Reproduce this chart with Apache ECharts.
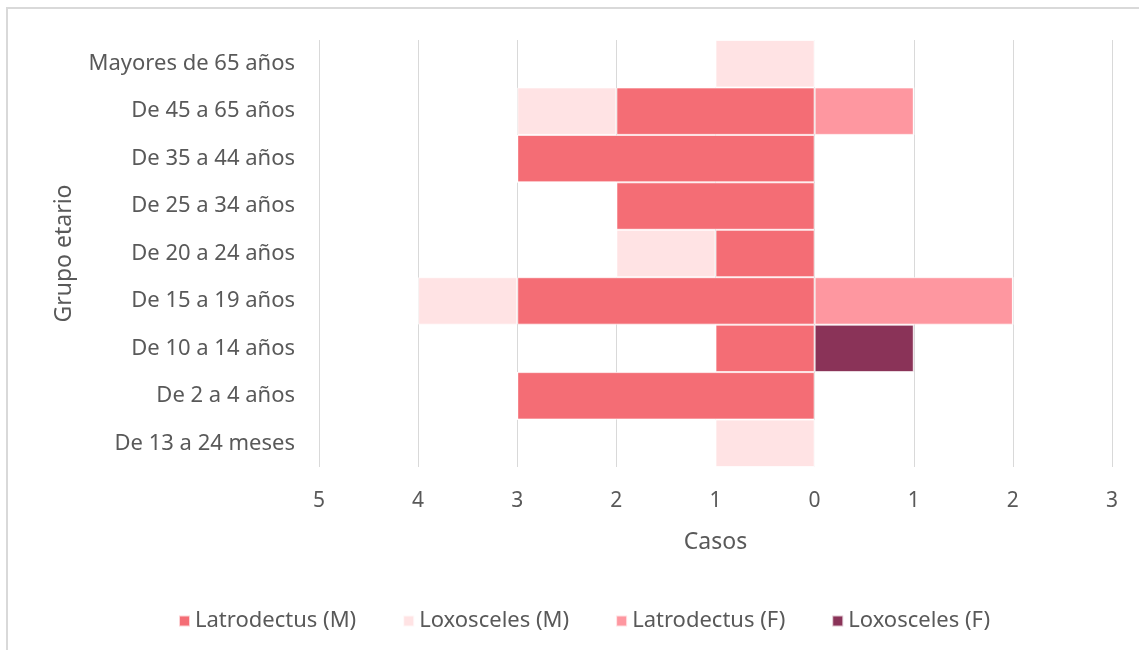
<!DOCTYPE html>
<html lang="es">
<head>
    <meta charset="UTF-8">
    <title>Grupo etario</title>
    <script src="https://cdn.jsdelivr.net/npm/echarts@6/dist/echarts.min.js"></script>
    <style>
        html, body { margin: 0; padding: 0; background: #fff; }
        #chart { width: 1139px; height: 650px; }
    </style>
</head>
<body>
    <div id="chart"></div>
    <script>
        // categorias de abajo hacia arriba
        var grupos = ['De 13 a 24 meses', 'De 2 a 4 años', 'De 10 a 14 años', 'De 15 a 19 años',
            'De 20 a 24 años', 'De 25 a 34 años', 'De 35 a 44 años', 'De 45 a 65 años', 'Mayores de 65 años'];
        // masculino se dibuja hacia la izquierda (negativo)
        var latrodectusM = [0, 3, 1, 3, 1, 2, 3, 2, 0];
        var loxoscelesM = [1, 0, 0, 1, 1, 0, 0, 1, 1];
        var latrodectusF = [0, 0, 0, 2, 0, 0, 0, 1, 0];
        var loxoscelesF = [0, 0, 1, 0, 0, 0, 0, 0, 0];

        var chart = echarts.init(document.getElementById('chart'));
        var font = '"Noto Sans", sans-serif';

        function neg(arr) {
            return arr.map(function (v) { return v === 0 ? 0 : -v; });
        }

        function barSerie(name, data, color) {
            return {
                name: name,
                type: 'bar',
                stack: 'total',
                barCategoryGap: '0%',
                data: data,
                itemStyle: {
                    color: color,
                    borderColor: 'rgba(255,255,255,0.7)',
                    borderWidth: 1
                }
            };
        }

        var option = {
            backgroundColor: '#fff',
            textStyle: { fontFamily: font },
            graphic: [{
                type: 'rect',
                shape: { x: 7, y: 8, width: 1200, height: 700 },
                style: { fill: 'none', stroke: '#d9d9d9', lineWidth: 2 },
                silent: true
            }],
            legend: {
                top: 605,
                left: 173,
                itemWidth: 11,
                itemHeight: 11,
                itemGap: 46,
                icon: 'rect',
                textStyle: { color: '#595959', fontSize: 22, fontFamily: font },
                data: ['Latrodectus (M)', 'Loxosceles (M)', 'Latrodectus (F)', 'Loxosceles (F)']
            },
            grid: { left: 319, right: 27, top: 40, bottom: 183 },
            xAxis: {
                type: 'value',
                min: -5,
                max: 3,
                interval: 1,
                name: 'Casos',
                nameLocation: 'middle',
                nameGap: 64,
                nameTextStyle: { color: '#595959', fontSize: 23 },
                axisLine: { show: false },
                axisTick: { show: false },
                axisLabel: {
                    color: '#595959',
                    fontSize: 21,
                    margin: 24,
                    formatter: function (v) { return Math.abs(v); }
                },
                splitLine: { lineStyle: { color: '#d9d9d9', width: 1 } }
            },
            yAxis: {
                type: 'category',
                data: grupos,
                name: 'Grupo etario',
                nameLocation: 'middle',
                nameGap: 243,
                nameTextStyle: { color: '#595959', fontSize: 23 },
                axisLine: { show: false },
                axisTick: { show: false },
                axisLabel: { color: '#595959', fontSize: 22, margin: 24 }
            },
            series: [
                barSerie('Latrodectus (M)', neg(latrodectusM), '#f46d75'),
                barSerie('Loxosceles (M)', neg(loxoscelesM), '#ffe3e4'),
                barSerie('Latrodectus (F)', latrodectusF, '#fe97a0'),
                barSerie('Loxosceles (F)', loxoscelesF, '#8a3358')
            ]
        };

        chart.setOption(option);
    </script>
</body>
</html>
